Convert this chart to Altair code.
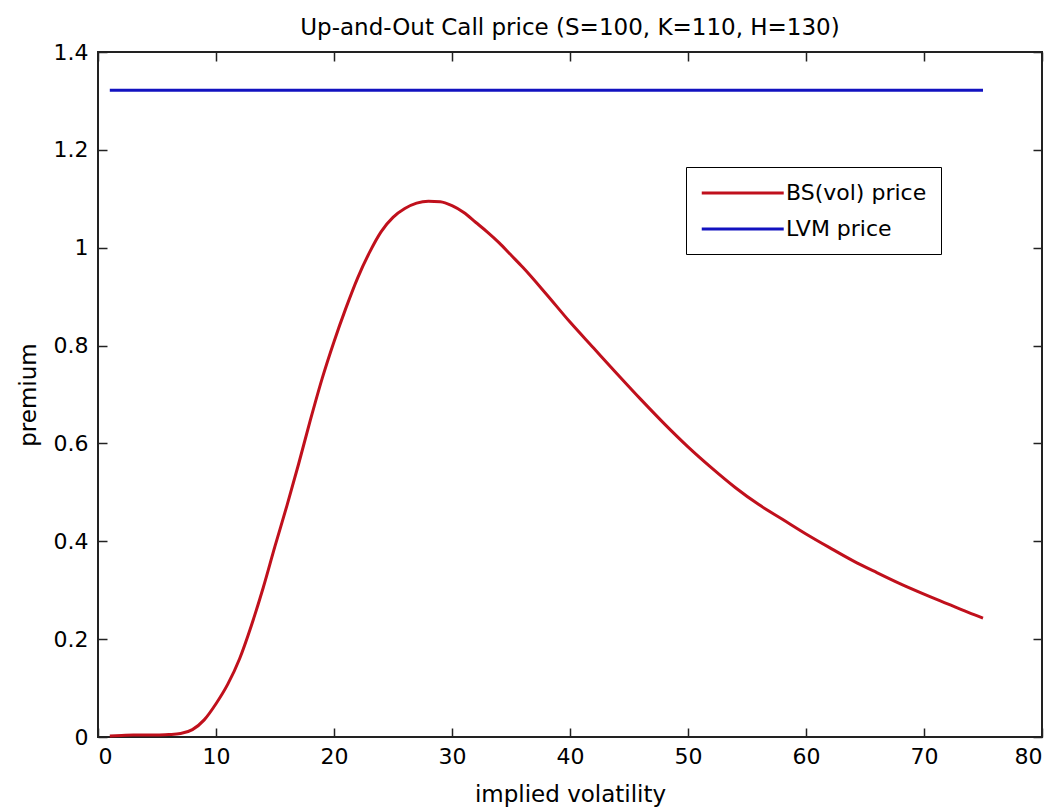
import altair as alt
import pandas as pd

# Implied volatility grid (in %) and Black-Scholes up-and-out call premium
vol = [1, 2, 3, 4, 5, 6, 7, 8, 9, 10, 11, 12, 13, 14, 15, 16, 17, 18, 19, 20,
       21, 22, 23, 24, 25, 26, 27, 28, 29, 30, 31, 32, 33, 34, 35, 36, 38, 40,
       42, 44, 46, 48, 50, 52, 54, 56, 58, 60, 62, 64, 66, 68, 70, 72, 74, 75]
bs_price = [0.002, 0.003, 0.004, 0.004, 0.004, 0.005, 0.007, 0.015, 0.035, 0.068,
            0.108, 0.16, 0.228, 0.305, 0.39, 0.472, 0.558, 0.648, 0.733, 0.808,
            0.876, 0.938, 0.99, 1.033, 1.062, 1.08, 1.091, 1.095, 1.094, 1.086,
            1.072, 1.052, 1.032, 1.01, 0.985, 0.96, 0.905, 0.848, 0.795, 0.742,
            0.69, 0.64, 0.593, 0.55, 0.51, 0.475, 0.445, 0.415, 0.387, 0.36,
            0.336, 0.313, 0.292, 0.272, 0.252, 0.243]

# Local volatility model price (flat in implied vol)
lvm_vol = [1, 75]
lvm_price = [1.322, 1.322]

series_names = ["BS(vol) price", "LVM price"]
series_colors = ["#C0101C", "#1212C0"]

x_ticks = [0, 10, 20, 30, 40, 50, 60, 70, 80]
y_ticks = [0, 0.2, 0.4, 0.6, 0.8, 1.0, 1.2, 1.4]

df = pd.concat([
    pd.DataFrame({"vol": vol, "premium": bs_price, "series": series_names[0]}),
    pd.DataFrame({"vol": lvm_vol, "premium": lvm_price, "series": series_names[1]}),
], ignore_index=True)

FONT = "DejaVu Sans"
TICK = 9

x_scale = alt.Scale(domain=[0, 80], nice=False)
y_scale = alt.Scale(domain=[0, 1.4], nice=False)

lines = alt.Chart(df).mark_line(strokeWidth=3, interpolate="monotone").encode(
    x=alt.X("vol:Q", scale=x_scale,
            axis=alt.Axis(orient="bottom", values=x_ticks, title="implied volatility",
                          offset=-TICK, tickSize=TICK, labelPadding=9, titlePadding=16,
                          titleFontSize=23)),
    y=alt.Y("premium:Q", scale=y_scale,
            axis=alt.Axis(orient="left", values=y_ticks, format="~g", title="premium",
                          offset=-TICK, tickSize=TICK, labelPadding=10, titlePadding=13,
                          titleFontSize=23)),
    color=alt.Color("series:N",
                    scale=alt.Scale(domain=series_names, range=series_colors),
                    legend=alt.Legend(orient="none", legendX=588, legendY=115,
                                      title=None, strokeColor="black", fillColor="white",
                                      padding=14, labelFont=FONT, labelFontSize=22,
                                      labelColor="black", symbolType="M-1,0H7",
                                      symbolSize=420, symbolStrokeWidth=3,
                                      labelOffset=62, rowPadding=13)),
    detail="series:N",
)

# Mirrored tick marks on the top and right edges of the box
mirror = alt.Chart(df).mark_line(opacity=0).encode(
    x=alt.X("vol:Q", scale=x_scale,
            axis=alt.Axis(orient="top", values=x_ticks, labels=False, title=None,
                          offset=-TICK, tickSize=TICK)),
    y=alt.Y("premium:Q", scale=y_scale,
            axis=alt.Axis(orient="right", values=y_ticks, labels=False, title=None,
                          offset=-TICK, tickSize=TICK)),
    detail="series:N",
)

chart = alt.layer(lines, mirror).resolve_axis(
    x="independent", y="independent"
).properties(
    width=944,
    height=685,
    autosize=alt.AutoSizeParams(type="none"),
    padding={"left": 98, "top": 52, "right": 15, "bottom": 72},
    title=alt.TitleParams("Up-and-Out Call price (S=100, K=110, H=130)",
                          font=FONT, fontSize=23, fontWeight="normal",
                          color="black", anchor="middle", offset=1),
).configure_view(
    stroke="#222222", strokeWidth=2
).configure_axis(
    domain=False, grid=False, tickColor="#222222", tickWidth=1.5,
    labelFont=FONT, labelFontSize=22, labelColor="black",
    titleFont=FONT, titleFontSize=22, titleFontWeight="normal", titleColor="black",
)

chart.save("out.html", embed_options={"renderer": "svg", "actions": False})
